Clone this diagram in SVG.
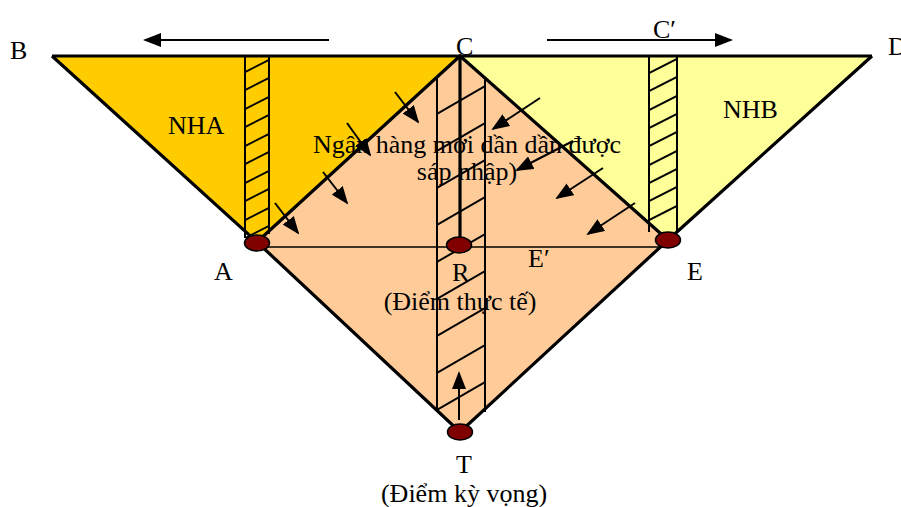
<svg xmlns="http://www.w3.org/2000/svg" width="901" height="507" viewBox="0 0 901 507">
<style>
text{font-family:"Liberation Serif","Times New Roman",serif;font-size:26px;fill:#000}
.thick{stroke:#000;stroke-width:3.2;fill:none;stroke-linejoin:miter}
.thin{stroke:#000;stroke-width:2;fill:none}
.hair{stroke:#000;stroke-width:1.5;fill:none}
.arr{stroke:#000;stroke-width:2;fill:none;marker-end:url(#ah)}
.node{fill:#800000;stroke:#000;stroke-width:1.5}
</style>
<defs>
<marker id="ah" markerUnits="userSpaceOnUse" markerWidth="18" markerHeight="14" viewBox="0 0 18 14" refX="16" refY="7" orient="auto">
<path d="M0,0 L18,7 L0,14 Z" fill="#000"/>
</marker>
<clipPath id="cl"><rect x="245" y="56" width="24" height="182"/></clipPath>
<clipPath id="cm"><rect x="437" y="77" width="48" height="335"/></clipPath>
<clipPath id="cr"><rect x="649" y="56" width="28" height="176"/></clipPath>
</defs>
<g id="regions">
<polygon id="nha-area" points="52,56 460,56 257,242" fill="#FFCC00"/>
<polygon id="nhb-area" points="460,56 872,56 668,240" fill="#FFFF99"/>
<polygon id="merge-area" points="460,56 668,240 460,432 257,242" fill="#FFCC99"/>
</g>
<g id="stripes">
<g clip-path="url(#cl)" class="thin">
<line x1="245" y1="72" x2="269" y2="60"/><line x1="245" y1="90" x2="269" y2="78"/><line x1="245" y1="109" x2="269" y2="97"/><line x1="245" y1="127" x2="269" y2="115"/><line x1="245" y1="146" x2="269" y2="134"/><line x1="245" y1="164" x2="269" y2="152"/><line x1="245" y1="183" x2="269" y2="171"/><line x1="245" y1="201" x2="269" y2="189"/><line x1="245" y1="220" x2="269" y2="208"/><line x1="245" y1="238" x2="269" y2="226"/>
</g>
<line class="thin" x1="245" y1="56" x2="245" y2="238"/><line class="thin" x1="269" y1="56" x2="269" y2="234"/>
<g clip-path="url(#cm)" class="thin">
<line x1="437" y1="114" x2="485" y2="86"/><line x1="437" y1="151" x2="485" y2="123"/><line x1="437" y1="188" x2="485" y2="160"/><line x1="437" y1="225" x2="485" y2="197"/><line x1="437" y1="262" x2="485" y2="234"/><line x1="437" y1="299" x2="485" y2="271"/><line x1="437" y1="336" x2="485" y2="308"/><line x1="437" y1="373" x2="485" y2="345"/><line x1="437" y1="410" x2="485" y2="382"/>
</g>
<line class="thin" x1="437" y1="77" x2="437" y2="412"/><line class="thin" x1="485" y1="77" x2="485" y2="412"/>
<g clip-path="url(#cr)" class="thin">
<line x1="649" y1="73" x2="677" y2="59"/><line x1="649" y1="91" x2="677" y2="77"/><line x1="649" y1="110" x2="677" y2="96"/><line x1="649" y1="128" x2="677" y2="114"/><line x1="649" y1="146" x2="677" y2="132"/><line x1="649" y1="165" x2="677" y2="151"/><line x1="649" y1="183" x2="677" y2="169"/><line x1="649" y1="201" x2="677" y2="187"/><line x1="649" y1="220" x2="677" y2="206"/>
</g>
<line class="thin" x1="649" y1="56" x2="649" y2="232"/><line class="thin" x1="677" y1="56" x2="677" y2="232"/>
</g>
<g id="connectors">
<line class="hair" x1="257" y1="247" x2="668" y2="247"/>
<polyline class="thick" points="52,56 872,56"/>
<polyline class="thick" points="52,56 257,242 460,56 668,240 872,56"/>
<polyline class="thick" points="257,242 460,432 668,240"/>
<line class="thick" x1="460" y1="56" x2="460" y2="244"/>
<line class="arr" x1="329" y1="40" x2="145" y2="40"/>
<line class="arr" x1="547" y1="40" x2="731" y2="40"/>
<line class="arr" x1="395" y1="92" x2="418" y2="122"/>
<line class="arr" x1="347" y1="123" x2="370" y2="155"/>
<line class="arr" x1="323" y1="172" x2="347" y2="203"/>
<line class="arr" x1="275" y1="203" x2="298" y2="233"/>
<line class="arr" x1="540" y1="98" x2="493" y2="129"/>
<line class="arr" x1="573" y1="141" x2="517" y2="170"/>
<line class="arr" x1="603" y1="168" x2="557" y2="198"/>
<line class="arr" x1="635" y1="203" x2="588" y2="234"/>
<line class="arr" x1="459" y1="420" x2="459" y2="373"/>
</g>
<g id="node-A"><ellipse class="node" cx="257" cy="243" rx="12.5" ry="8"/><text x="214" y="280">A</text></g>
<g id="node-R"><ellipse class="node" cx="459" cy="245" rx="12.5" ry="8"/><text x="452" y="281">R</text><text x="460" y="310" text-anchor="middle">(Điểm thực tế)</text></g>
<g id="node-E"><ellipse class="node" cx="668" cy="240" rx="12.5" ry="8"/><text x="687" y="280">E</text></g>
<g id="node-T"><ellipse class="node" cx="460" cy="432" rx="12.5" ry="8"/><text x="464" y="473" text-anchor="middle">T</text><text x="464" y="502" text-anchor="middle">(Điểm kỳ vọng)</text></g>
<g id="labels">
<text x="10" y="59">B</text>
<text x="456" y="55">C</text>
<text x="653" y="38">C′</text>
<text x="888" y="55">D</text>
<text x="168" y="134">NHA</text>
<text x="723" y="118">NHB</text>
<text x="467" y="153" text-anchor="middle">Ngân hàng mới dần dần được</text>
<text x="467" y="180" text-anchor="middle">sáp nhập)</text>
<text x="528" y="267">E′</text>
</g>
</svg>
